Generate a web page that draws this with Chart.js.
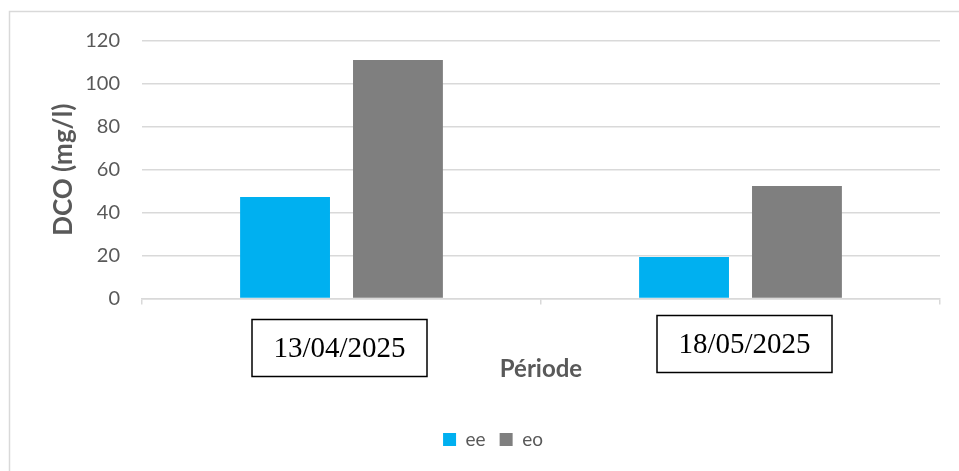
<!DOCTYPE html>
<html>
<head>
<meta charset="utf-8">
<script src="https://cdn.jsdelivr.net/npm/chart.js@4.4.1/dist/chart.umd.min.js"></script>
<style>
  html, body { margin: 0; padding: 0; background: #ffffff; }
  #wrap { position: relative; width: 959px; height: 471px; }
</style>
</head>
<body>
<div id="wrap"><canvas id="c" width="959" height="471"></canvas></div>
<script>
// Sampling dates and DCO measurements (mg/l)
const periods = ['13/04/2025', '18/05/2025'];
const eeValues = [47.3, 19.3];
const eoValues = [111.1, 52.4];
const seriesNames = ['ee', 'eo'];
const yTicks = [0, 20, 40, 60, 80, 100, 120];

const gridGrey = '#d9d9d9';
const textGrey = '#595959';

// Boxed date captions drawn under each category of the x axis
const dateBoxes = {
  id: 'dateBoxes',
  afterDraw(chart, args, opts) {
    const ctx = chart.ctx;
    const xs = chart.scales.x;
    ctx.save();
    periods.forEach((label, i) => {
      const cx = xs.getPixelForValue(i) + opts.dx[i];
      const cy = opts.cy + opts.dy[i];
      const w = opts.width, h = opts.height;
      ctx.fillStyle = '#ffffff';
      ctx.fillRect(cx - w / 2, cy - h / 2, w, h);
      ctx.strokeStyle = '#000000';
      ctx.lineWidth = 1.5;
      ctx.strokeRect(cx - w / 2, cy - h / 2, w, h);
      ctx.fillStyle = '#000000';
      ctx.font = opts.font;
      ctx.textAlign = 'center';
      ctx.textBaseline = 'middle';
      ctx.fillText(label, cx, cy + 1);
    });
    ctx.restore();
  }
};

// Light frame around the chart
const frame = {
  id: 'frame',
  beforeDraw(chart) {
    const ctx = chart.ctx;
    ctx.save();
    ctx.strokeStyle = '#d9d9d9';
    ctx.lineWidth = 1.5;
    ctx.strokeRect(9.5, 11.5, chart.width + 20, chart.height + 20);
    ctx.restore();
  }
};

new Chart(document.getElementById('c'), {
  type: 'bar',
  data: {
    labels: periods,
    datasets: [
      { label: seriesNames[0], data: eeValues, backgroundColor: '#00b0f0', borderWidth: 0 },
      { label: seriesNames[1], data: eoValues, backgroundColor: '#7f7f7f', borderWidth: 0 }
    ]
  },
  options: {
    responsive: false,
    animation: false,
    devicePixelRatio: 1,
    categoryPercentage: 0.566,
    barPercentage: 0.796,
    layout: { padding: { left: 46, right: 19, top: 41, bottom: 12 } },
    plugins: {
      tooltip: { enabled: false },
      legend: {
        position: 'bottom',
        labels: {
          boxWidth: 13,
          boxHeight: 13,
          padding: 14,
          color: textGrey,
          font: { family: 'Lato', size: 19 }
        }
      },
      dateBoxes: {
        cy: 346,
        dx: [-2, 4],
        dy: [2, -2],
        width: 175,
        height: 57,
        font: '29px "Liberation Serif"'
      }
    },
    scales: {
      x: {
        offset: true,
        border: { display: true, color: gridGrey, width: 1.5 },
        grid: { drawOnChartArea: false, drawTicks: true, tickLength: 6, color: gridGrey, lineWidth: 1.5, offset: true },
        ticks: { display: false },
        title: {
          display: true,
          text: 'Période',
          color: textGrey,
          font: { family: 'Lato', size: 24, weight: 'bold' },
          padding: { top: 0, bottom: 32 }
        },
        afterFit(scale) { scale.height = 117.5; }
      },
      y: {
        min: 0,
        max: 120,
        border: { display: false },
        grid: { color: gridGrey, lineWidth: 1.5, drawTicks: false },
        afterBuildTicks(scale) { scale.ticks = yTicks.map(v => ({ value: v })); },
        ticks: {
          padding: 22,
          color: textGrey,
          font: { family: 'Lato', size: 20 }
        },
        title: {
          display: true,
          text: 'DCO (mg/l)',
          color: textGrey,
          font: { family: 'Lato', size: 26, weight: 'bold' },
          padding: { top: 2, bottom: 0 }
        },
        afterFit(scale) { scale.width = 96; }
      }
    }
  },
  plugins: [frame, dateBoxes]
});
</script>
</body>
</html>
